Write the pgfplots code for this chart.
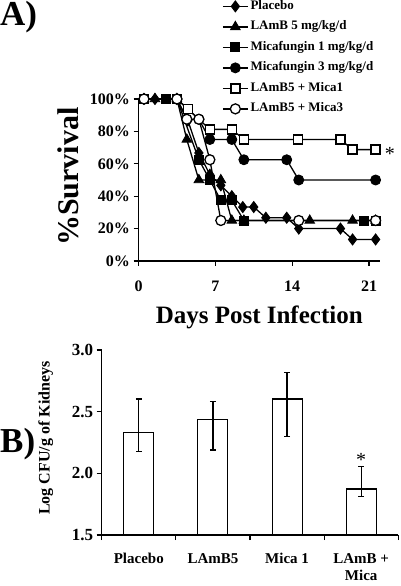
\documentclass[border=0pt]{standalone}
\usepackage{fontspec}
\setmainfont{Liberation Serif}
\usepackage{pgfplots}
\pgfplotsset{compat=1.18}
\begin{document}
\begin{tikzpicture}[x=1pt,y=1pt]
\path[use as bounding box] (0,0) rectangle (400,586);
% ---------------- Panel A ----------------
\begin{axis}[
  at={(138.5pt,325pt)}, anchor=south west,
  width=241.5pt, height=162pt, scale only axis,
  xmin=0, xmax=22, ymin=0, ymax=100,
  axis x line*=bottom, axis y line*=left,
  axis line style={-, line width=1.4pt},
  xtick={0,7,14,21}, ytick={0,20,40,60,80,100},
  yticklabel={\pgfmathprintnumber{\tick}\%},
  tick align=outside, major tick length=5pt,
  tick style={line width=1.2pt, black},
  /pgf/number format/assume math mode=true,
  ticklabel style={font=\fontsize{16}{16}\selectfont\bfseries},
  xticklabel style={yshift=-11pt},
  xlabel={Days Post Infection},
  xlabel style={at={(axis description cs:0.5,-0.383)}, anchor=base, inner sep=0pt, font=\fontsize{25}{25}\selectfont\bfseries},
  ylabel={\%Survival},
  ylabel style={at={(axis description cs:-0.2505,0.521)}, anchor=base, inner sep=0pt, font=\fontsize{30}{30}\selectfont\bfseries},
  clip=false,
  legend style={at={(axis description cs:0.3458,1.61)}, anchor=north west, draw=none, fill=none, inner sep=0pt, row sep=8.5pt, column sep=2pt,
    font=\fontsize{13}{13}\selectfont\bfseries, nodes={inner sep=0pt, text height=9pt, text depth=3pt}},
  legend cell align=left,
  legend image code/.code={\draw[mark repeat=2,mark phase=2,#1] plot coordinates {(0pt,0pt) (12.5pt,0pt) (25pt,0pt)};},
  every axis plot/.append style={black, line width=1.3pt, mark options={solid, line width=0.9pt}},
]
\addplot[mark=diamond*, mark size=5.5pt] coordinates {
 (0.5,100) (1.5,100) (3.5,100) (4.5,86.7) (5.5,66.7) (6.5,53.3) (7.5,46.7) (8.5,40) (9.5,33.3) (10.5,33.3)
 (11.6,26.7) (13.5,26.7) (14.6,20) (18.4,20) (19.5,13.3) (21.6,13.3)};
\addlegendentry{Placebo}
\addplot[mark=triangle*, mark size=5.5pt] coordinates {
 (0.5,100) (1.5,100) (3.5,100) (4.4,75) (5.5,50) (6.5,50) (7.5,50) (8.5,25) (9.6,25) (15.6,25) (19.5,25) (21.6,25)};
\addlegendentry{LAmB 5 mg/kg/d}
\addplot[mark=square*, mark size=4.5pt] coordinates {
 (0.5,100) (2.5,100) (3.5,100) (5.5,62.5) (6.5,50) (7.5,37.5) (8.5,37.5) (9.6,25) (20.5,25) (21.6,25)};
\addlegendentry{Micafungin 1 mg/kg/d}
\addplot[mark=*, mark size=5pt] coordinates {
 (0.5,100) (3.5,100) (5.5,87.5) (6.5,75) (8.5,75) (9.6,62.5) (13.5,62.5) (14.6,50) (21.6,50)};
\addlegendentry{Micafungin 3 mg/kg/d}
\addplot[mark=square*, mark size=4.5pt, mark options={fill=white}] coordinates {
 (0.5,100) (3.5,100) (4.5,93.75) (6.5,81.25) (8.5,81.25) (9.6,75) (14.5,75) (18.4,75) (19.5,68.75) (21.6,68.75)};
\addlegendentry{LAmB5 + Mica1}
\addplot[mark=*, mark size=5pt, mark options={fill=white}] coordinates {
 (0.5,100) (3.5,100) (4.4,87.5) (5.5,87.5) (6.5,62.5) (7.5,25) (14.6,25) (21.6,25)};
\addlegendentry{LAmB5 + Mica3}
\node[font=\fontsize{20}{20}\selectfont, anchor=center, yshift=-4pt] at (axis cs:22.9,68.75) {*};
\end{axis}
% ---------------- Panel B ----------------
\begin{axis}[
  at={(101.7pt,51pt)}, anchor=south west,
  width=296.6pt, height=185pt, scale only axis,
  xmin=0, xmax=4, ymin=1.5, ymax=3.0,
  axis x line*=bottom, axis y line*=left,
  axis line style={-, line width=1.4pt},
  xtick={0,1,2,3,4}, xticklabels={},
  extra x ticks={0.5,1.5,2.5,3.5},
  extra x tick labels={Placebo, LAmB5, Mica 1, {LAmB +\\Mica}},
  extra x tick style={major tick length=0pt, xticklabel style={font=\fontsize{15}{17.5}\selectfont\bfseries, align=center, anchor=north, yshift=-15pt}},
  ytick={1.5,2.0,2.5,3.0},
  yticklabel style={/pgf/number format/.cd, fixed, fixed zerofill, precision=1},
  tick align=outside, major tick length=5pt,
  tick style={line width=1.2pt, black},
  /pgf/number format/assume math mode=true,
  ticklabel style={font=\fontsize{17}{17}\selectfont\bfseries},
  ylabel={Log CFU/g of Kidneys},
  ylabel style={at={(axis description cs:-0.176,0.524)}, anchor=base, inner sep=0pt, font=\fontsize{16}{16}\selectfont\bfseries},
]
\addplot[ybar, bar width=30pt, bar shift=0pt, fill=white, draw=black, line width=1.1pt,
  error bars/.cd, y dir=both, y explicit,
  error bar style={line width=1.3pt, black},
  error mark options={rotate=90, mark size=3pt, line width=1.3pt, black}]
 coordinates {
 (0.5,2.333) += (0,0.270) -= (0,0.157)
 (1.5,2.433) += (0,0.148) -= (0,0.244)
 (2.5,2.603) += (0,0.213) -= (0,0.306)
 (3.5,1.873) += (0,0.181) -= (0,0.062)
 };
\node[font=\fontsize{20}{20}\selectfont, anchor=center, yshift=-4pt] at (axis cs:3.5,2.14) {*};
\end{axis}
\node[anchor=base west, inner sep=0pt, font=\fontsize{35}{35}\selectfont\bfseries] at (0,560) {A)};
\node[anchor=base west, inner sep=0pt, font=\fontsize{35}{35}\selectfont\bfseries] at (0,133) {B)};
\end{tikzpicture}
\end{document}
